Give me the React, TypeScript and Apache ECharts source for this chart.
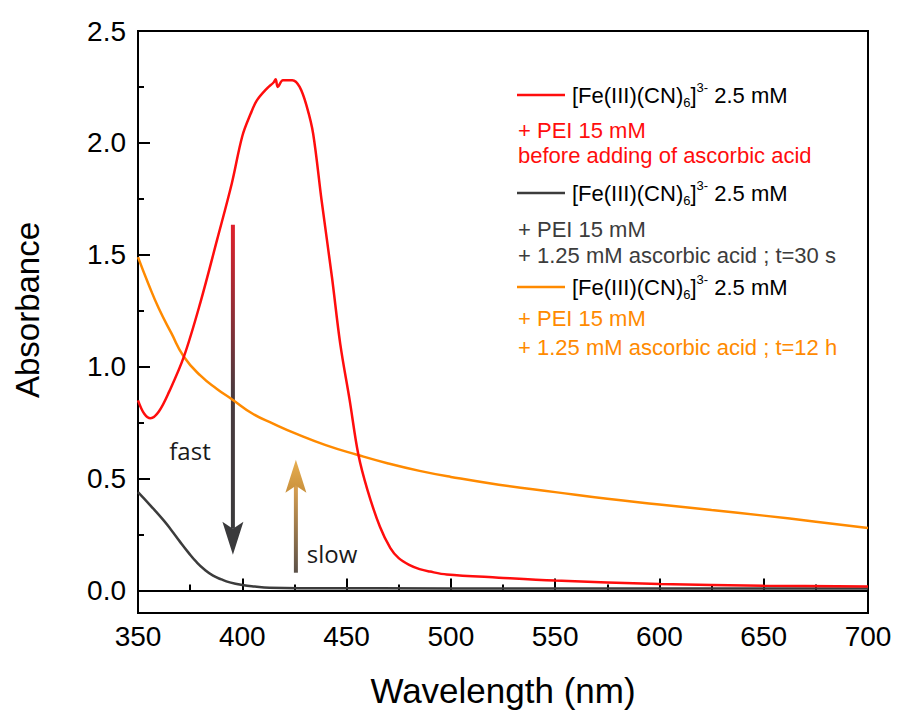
import React, { useEffect, useRef } from 'react';
import * as echarts from 'echarts';

// Wavelength (nm) and absorbance
const redX = [350, 353, 356, 360, 365, 372, 380, 388, 395, 400, 404, 407, 412, 415, 416, 417, 419.5, 424, 427.5, 431, 434, 438, 443, 447, 451.5, 455.6, 460, 466, 471, 475, 480, 485, 490, 498, 523, 550, 600, 650, 700];
const redY = [0.85, 0.79, 0.77, 0.8, 0.89, 1.045, 1.29, 1.57, 1.82, 2.03, 2.13, 2.19, 2.245, 2.27, 2.285, 2.25, 2.28, 2.28, 2.25, 2.16, 2.04, 1.745, 1.4, 1.1, 0.85, 0.61, 0.45, 0.285, 0.19, 0.145, 0.115, 0.096, 0.085, 0.072, 0.058, 0.045, 0.03, 0.022, 0.018];

const grayX = [350, 356, 362, 366, 370, 374, 378, 382, 386, 390, 394, 400, 406, 413, 430, 500, 600, 700];
const grayY = [0.44, 0.38, 0.317, 0.27, 0.22, 0.172, 0.128, 0.093, 0.067, 0.05, 0.037, 0.025, 0.018, 0.013, 0.011, 0.01, 0.009, 0.009];

const orangeX = [350, 355, 360, 366, 372, 380, 388, 395, 405, 415, 426, 440, 455, 470, 485, 500, 523, 550, 575, 600, 625, 650, 675, 700];
const orangeY = [1.49, 1.37, 1.26, 1.15, 1.045, 0.96, 0.9, 0.855, 0.79, 0.745, 0.7, 0.65, 0.607, 0.568, 0.535, 0.508, 0.473, 0.44, 0.41, 0.385, 0.36, 0.335, 0.308, 0.28];

const yMajorTicks = [0, 0.5, 1, 1.5, 2, 2.5];
const yMinorTicks = [0.25, 0.75, 1.25, 1.75, 2.25];

const RED = '#ff0d0d';
const GRAY = '#3c3c3c';
const ORANGE = '#ff8a00';

const zip = (xs: number[], ys: number[]) => xs.map((x, i) => [x, ys[i]]);

export default function App() {
  const ref = useRef<HTMLDivElement>(null);
  useEffect(() => {
    const chart = echarts.init(ref.current!, null, { renderer: 'svg' });
    const font = 'Liberation Sans, Arial, sans-serif';
    const option: any = {
      animation: false,
      backgroundColor: '#fff',
      grid: { left: 138, right: 31, top: 31, bottom: 103, show: true, borderColor: '#000', borderWidth: 2, containLabel: false },
      xAxis: {
        type: 'value', min: 350, max: 700, interval: 50,
        axisLine: { show: true, lineStyle: { color: '#000', width: 2 } },
        axisTick: { show: true, inside: true, length: 12, lineStyle: { color: '#000', width: 2 } },
        minorTick: { show: true, splitNumber: 2, length: 6, lineStyle: { color: '#000', width: 2 } },
        axisLabel: { color: '#000', fontSize: 28, fontFamily: font, margin: 9 },
        splitLine: { show: false },
      },
      yAxis: [
        {
          type: 'value', min: -0.1, max: 2.5,
          axisLine: { show: true, lineStyle: { color: '#000', width: 2 } },
          axisTick: { show: true, inside: true, length: 12, lineStyle: { color: '#000', width: 2 }, customValues: yMajorTicks },
          axisLabel: { color: '#000', fontSize: 28, fontFamily: font, margin: 12, customValues: yMajorTicks, formatter: (v: number) => v.toFixed(1) },
          splitLine: { show: false },
        },
        {
          type: 'value', min: -0.1, max: 2.5, position: 'left',
          axisLine: { show: false },
          axisTick: { show: true, inside: true, length: 6, lineStyle: { color: '#000', width: 2 }, customValues: yMinorTicks },
          axisLabel: { show: false },
          splitLine: { show: false },
        },
      ],
      series: [
        { type: 'line', data: zip(orangeX, orangeY), showSymbol: false, smooth: 0.5, lineStyle: { color: ORANGE, width: 2.5 }, z: 2 },
        { type: 'line', data: zip(grayX, grayY), showSymbol: false, smooth: 0.5, lineStyle: { color: GRAY, width: 2.5 }, z: 3 },
        { type: 'line', data: zip(redX, redY), showSymbol: false, smooth: 0.35, lineStyle: { color: RED, width: 2.5 }, z: 4 },
      ],
    };
    chart.setOption(option);

    const px = (x: number, y: number) => chart.convertToPixel({ xAxisIndex: 0, yAxisIndex: 0 }, [x, y]) as number[];

    // Arrows
    const fTop = px(395.5, 1.634), fTip = px(395.5, 0.16);
    const sBot = px(425.7, 0.08), sTip = px(425.7, 0.585);
    const headLen = 33, notch = 7, halfW = 10.5;
    const arrowHead = (x: number, tipY: number, dir: number) => [
      [x, tipY],
      [x + halfW, tipY - dir * headLen],
      [x, tipY - dir * (headLen - notch)],
      [x - halfW, tipY - dir * headLen],
    ];

    const legendRich = (color: string) => ({
      n: { fontSize: 22, fontFamily: font, color, lineHeight: 28 },
      sub: { fontSize: 13, fontFamily: font, color, lineHeight: 13, verticalAlign: 'bottom' },
      sup: { fontSize: 13, fontFamily: font, color, lineHeight: 13, verticalAlign: 'top' },
    });
    const header = '{n|[Fe(III)(CN)}{sub|6}{n|]}{sup|3-}{n| 2.5 mM}';
    const legendGroups = [
      { color: RED, y: 95, lines: ['+ PEI 15 mM', 'before adding of ascorbic acid'], ys: [130, 155] },
      { color: GRAY, y: 193, lines: ['+ PEI 15 mM', '+ 1.25 mM ascorbic acid ; t=30 s'], ys: [229, 255] },
      { color: ORANGE, y: 287, lines: ['+ PEI 15 mM', '+ 1.25 mM ascorbic acid ; t=12 h'], ys: [318, 347] },
    ];
    const graphic: any[] = [];
    legendGroups.forEach((g) => {
      graphic.push({ type: 'line', shape: { x1: 517, y1: g.y, x2: 565, y2: g.y }, style: { stroke: g.color, lineWidth: 2.5 } });
      graphic.push({ type: 'text', x: 572, y: g.y, style: { text: header, rich: legendRich(g.color), verticalAlign: 'middle', align: 'left' } });
      g.lines.forEach((t, i) => {
        graphic.push({ type: 'text', x: 518, y: g.ys[i], style: { text: t, fontSize: 22, fontFamily: font, fill: g.color, verticalAlign: 'middle', align: 'left' } });
      });
    });

    graphic.push({
      type: 'rect',
      shape: { x: fTop[0] - 2, y: fTop[1], width: 4, height: fTip[1] - headLen + notch - fTop[1] },
      style: { fill: new echarts.graphic.LinearGradient(0, 0, 0, 1, [{ offset: 0, color: '#e0202c' }, { offset: 0.55, color: '#4a3a3e' }, { offset: 1, color: '#3a3a3c' }]) },
    });
    graphic.push({ type: 'polygon', shape: { points: arrowHead(fTip[0], fTip[1], 1) }, style: { fill: '#3a3a3c' } });

    graphic.push({
      type: 'rect',
      shape: { x: sBot[0] - 2, y: sTip[1] + headLen - notch, width: 4, height: sBot[1] - (sTip[1] + headLen - notch) },
      style: { fill: new echarts.graphic.LinearGradient(0, 0, 0, 1, [{ offset: 0, color: '#d9a050' }, { offset: 1, color: '#5a5048' }]) },
    });
    graphic.push({
      type: 'polygon', shape: { points: arrowHead(sTip[0], sTip[1], -1) },
      style: { fill: new echarts.graphic.LinearGradient(0, 0, 0, 1, [{ offset: 0, color: '#e8ae50' }, { offset: 1, color: '#c8903c' }]) },
    });

    graphic.push({ type: 'text', x: 190, y: 450, style: { text: 'fast', fontSize: 24, fontFamily: 'Open Sans, sans-serif', fill: '#1a1a1a', align: 'center', verticalAlign: 'middle' } });
    graphic.push({ type: 'text', x: 332, y: 553, style: { text: 'slow', fontSize: 24, fontFamily: 'Open Sans, sans-serif', fill: '#1a1a1a', align: 'center', verticalAlign: 'middle' } });

    // Axis titles
    graphic.push({ type: 'text', x: 27, y: 310, rotation: Math.PI / 2, style: { text: 'Absorbance', fontSize: 33, fontFamily: font, fill: '#000', align: 'center', verticalAlign: 'middle' } });
    graphic.push({ type: 'text', x: 503, y: 690, style: { text: 'Wavelength (nm)', fontSize: 35, fontFamily: font, fill: '#000', align: 'center', verticalAlign: 'middle' } });

    chart.setOption({ graphic });
    return () => chart.dispose();
  }, []);
  return <div ref={ref} style={{ position: 'absolute', left: 0, top: 0, width: 899, height: 716 }} />;
}
